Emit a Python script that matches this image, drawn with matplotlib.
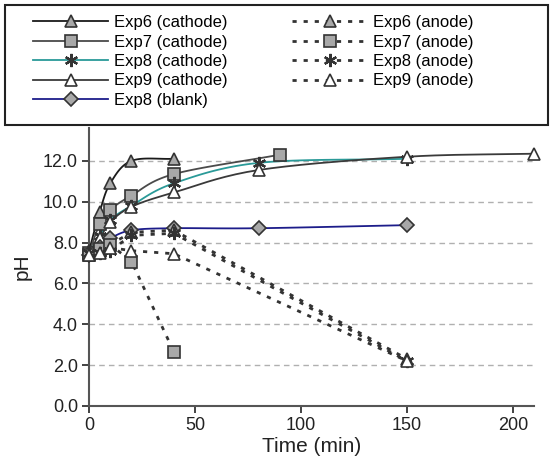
import numpy as np
import matplotlib
matplotlib.use("Agg")
import matplotlib.pyplot as plt
from matplotlib.patches import Rectangle

plt.rcParams['font.family'] = ['Liberation Sans', 'DejaVu Sans']

# data: time (min) and pH
t6c = [0, 5, 10, 20, 40]
ph6c = [7.6, 9.5, 10.9, 12.0, 12.1]
t7c = [0, 5, 10, 20, 40, 90]
ph7c = [7.5, 8.9, 9.6, 10.3, 11.35, 12.3]
t8c = [0, 5, 10, 20, 40, 80, 150]
ph8c = [7.5, 8.3, 9.1, 9.8, 10.9, 11.9, 12.1]
t9c = [0, 5, 10, 20, 40, 80, 150, 210]
ph9c = [7.6, 8.2, 9.0, 9.75, 10.45, 11.55, 12.2, 12.35]
t8b = [0, 5, 10, 20, 40, 80, 150]
ph8b = [7.4, 7.8, 8.2, 8.6, 8.7, 8.7, 8.85]
t6a = [0, 5, 10, 20, 40, 150]
ph6a = [7.5, 7.6, 7.9, 8.5, 8.6, 2.3]
t7a = [0, 5, 10, 20, 40]
ph7a = [7.4, 7.7, 7.9, 7.07, 2.65]
t8a = [0, 5, 10, 20, 40, 150]
ph8a = [7.5, 7.5, 7.6, 8.35, 8.45, 2.2]
t9a = [0, 5, 10, 20, 40, 150]
ph9a = [7.4, 7.5, 7.75, 7.6, 7.45, 2.2]


def smooth(x, y, n=20):
    # Catmull-Rom curve through the points, like Excel's smoothed line
    x = np.asarray(x, float)
    y = np.asarray(y, float)
    px = np.concatenate([[2 * x[0] - x[1]], x, [2 * x[-1] - x[-2]]])
    py = np.concatenate([[2 * y[0] - y[1]], y, [2 * y[-1] - y[-2]]])
    xs, ys = [], []
    s = np.linspace(0, 1, n)
    for i in range(1, len(px) - 2):
        for p, out in ((px, xs), (py, ys)):
            p0, p1, p2, p3 = p[i - 1], p[i], p[i + 1], p[i + 2]
            out.extend(0.5 * (2 * p1 + (-p0 + p2) * s
                              + (2 * p0 - 5 * p1 + 4 * p2 - p3) * s ** 2
                              + (-p0 + 3 * p1 - 3 * p2 + p3) * s ** 3))
    return xs, ys


fig = plt.figure(figsize=(5.5, 4.66), dpi=100)
ax = fig.add_axes([0.162, 0.129, 0.809, 0.596])

grey = '#a8a8a8'
edge = '#333333'
ast = (6, 2, 0)
dots = (0, (1.5, 2.5))

series = [
    (t6c, ph6c, 'Exp6 (cathode)', '#1a1a1a', '-', '^', grey, True),
    (t7c, ph7c, 'Exp7 (cathode)', '#4a4a4a', '-', 's', grey, True),
    (t8c, ph8c, 'Exp8 (cathode)', '#2a9a98', '-', ast, 'none', True),
    (t9c, ph9c, 'Exp9 (cathode)', '#3a3a3a', '-', '^', 'white', True),
    (t8b, ph8b, 'Exp8 (blank)', '#1c1c8a', '-', 'D', grey, True),
    (t6a, ph6a, 'Exp6 (anode)', '#333333', dots, '^', grey, False),
    (t7a, ph7a, 'Exp7 (anode)', '#333333', dots, 's', grey, False),
    (t8a, ph8a, 'Exp8 (anode)', '#333333', dots, ast, 'none', False),
    (t9a, ph9a, 'Exp9 (anode)', '#333333', dots, '^', 'white', False),
]

for t, ph, lab, col, ls, mk, fc, sm in series:
    ms = {'D': 7}.get(mk, 9.5 if mk == ast else 8)
    mew = 1.6 if mk == ast else 1.2
    if sm:
        xs, ys = smooth(t, ph)
        ax.plot(xs, ys, color=col, ls=ls, lw=1.3, zorder=2, clip_on=False)
    else:
        ax.plot(t, ph, color=col, ls=ls, lw=2, zorder=2)
    ax.plot(t, ph, ls='none', marker=mk, ms=ms, mfc=fc, mec=edge,
            mew=mew, zorder=3, clip_on=False)
    # legend proxy
    ax.plot([], [], color=col, ls=ls, lw=1.3 if sm else 2, marker=mk,
            ms=ms, mfc=fc, mec=edge, mew=mew, label=lab)

ax.set_xlim(0, 210)
ax.set_ylim(0, 13.6)
ax.set_xticks([0, 50, 100, 150, 200])
ax.set_yticks(np.arange(0, 13, 2))
ax.set_yticklabels(['%.1f' % v for v in np.arange(0, 13, 2)])
ax.yaxis.grid(True, ls=(0, (4, 3)), color='#b0b0b0', lw=1)
ax.set_axisbelow(True)
for s in ['top', 'right']:
    ax.spines[s].set_visible(False)
for s in ['left', 'bottom']:
    ax.spines[s].set_color('#555555')
    ax.spines[s].set_linewidth(1.5)
ax.tick_params(labelsize=13, colors='#222222', length=5, width=1.2, pad=3)
ax.set_xlabel('Time (min)', fontsize=15, color='#222222', labelpad=2)
ax.set_ylabel('pH', fontsize=15, color='#222222', labelpad=8)

fig.add_artist(Rectangle((0.009, 0.732), 0.987, 0.2575, transform=fig.transFigure,
                         fill=False, edgecolor='#222222', lw=1.5))
fig.legend(loc='upper left', bbox_to_anchor=(33 / 550, 1 - 15 / 466),
           ncol=2, fontsize=12, frameon=False,
           handlelength=4.5, handletextpad=0.35, labelspacing=0.27,
           borderaxespad=0, borderpad=0, columnspacing=3.9)

fig.savefig('out.png', dpi=100)
